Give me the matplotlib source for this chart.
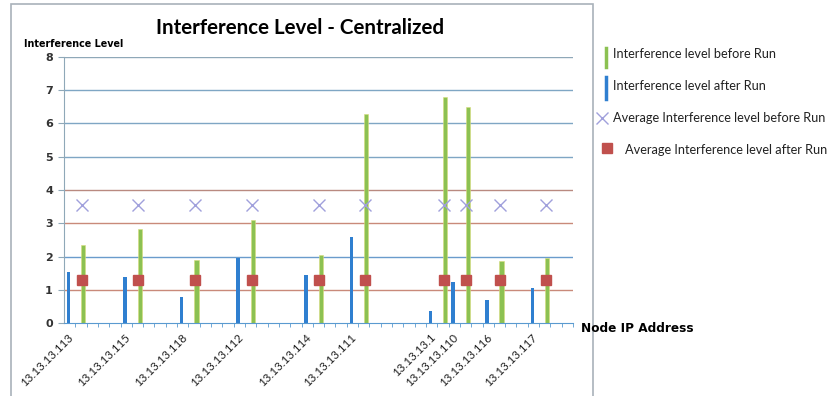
import numpy as np
import matplotlib
matplotlib.use('Agg')
import matplotlib.pyplot as plt
from matplotlib.lines import Line2D
from matplotlib.patches import Rectangle

# node labels and measured interference levels
nodes = ['13.13.13.113', '13.13.13.115', '13.13.13.118', '13.13.13.112',
         '13.13.13.114', '13.13.13.111', '13.13.13.1', '13.13.13.110',
         '13.13.13.116', '13.13.13.117']
node_slot = [1, 6, 11, 16, 22, 26, 33, 35, 38, 42]
level_before = [2.36, 2.83, 1.89, 3.11, 2.04, 6.27, 6.78, 6.49, 1.87, 1.95]
level_after = [1.54, 1.38, 0.80, 1.95, 1.46, 2.60, 0.36, 1.23, 0.70, 1.06]
n_slots = 45

W, H = 832, 396
fig = plt.figure(figsize=(W / 100, H / 100), dpi=100)
fig.patch.set_facecolor('white')

def fx(px):
    return px / W

def fy(py):
    return 1 - py / H

ax = fig.add_axes([fx(64), fy(323.3), fx(573) - fx(64), fy(56.7) - fy(323.3)])

slot = np.array(node_slot, dtype=float)
before = np.array(level_before)
after = np.array(level_after)
avg_before = np.full(len(before), before.mean())
avg_after = np.full(len(after), after.mean())

green = '#8cc152'
blue = '#2f7fd0'

# horizontal gridlines (some drawn in red tint)
grid_col = {1: '#c98a7a', 2: '#6a9ccc', 3: '#c98a7a', 4: '#b98a80',
            5: '#7fa6c4', 6: '#7fa6c4', 7: '#7fa6c4', 8: '#8fa8b8'}
for yv, c in grid_col.items():
    ax.axhline(yv, color=c, lw=1.0, zorder=0)

ax.bar(slot - 0.6, after, width=0.3, color=blue, zorder=2)
ax.bar(slot + 0.7, before, width=0.4, color=green, edgecolor='#d8dc7a',
       linewidth=0.4, zorder=2)
ax.plot(slot + 0.58, avg_before, 'x', color='#a0a0dc', ms=8, mew=1.0,
        zorder=3, ls='none')
ax.plot(slot + 0.58, avg_after, 's', color='#c0504d', ms=6.5, zorder=4,
        ls='none')

ax.set_xlim(0, n_slots)
ax.set_ylim(0, 8)
ax.set_yticks(range(0, 9))
ax.tick_params(axis='y', length=4, color='#8fa8b8', labelsize=8,
               labelcolor='#333333', pad=4)
for t in ax.get_yticklabels():
    t.set_fontweight('bold')

# tick marks at every slot, labels only where a node sits
ax.set_xticks(np.arange(1, n_slots + 1), minor=True)
ax.set_xticks(slot - 0.65)
ax.set_xticklabels(nodes, rotation=45, ha='right', va='top',
                   rotation_mode='anchor', fontsize=8.4, family='Lato',
                   color='#222222')
ax.tick_params(axis='x', which='major', length=0, pad=6)
ax.tick_params(axis='x', which='minor', length=3, color='#5a9ad0',
               direction='out')

for s in ['top', 'right']:
    ax.spines[s].set_visible(False)
ax.spines['left'].set_color('#8fa8b8')
ax.spines['bottom'].set_color('#5a9ad0')

# outer chart frame
fig.add_artist(Rectangle((fx(10.7), fy(420)), fx(592.7) - fx(10.7),
                         fy(4) - fy(420), transform=fig.transFigure,
                         fill=False, edgecolor='#a9b2ba', lw=1.2))

fig.text(fx(300), fy(28), 'Interference Level - Centralized', ha='center',
         va='center', fontsize=14.8, fontweight='bold', family='Lato')
fig.text(fx(24), fy(44), 'Interference Level', ha='left', va='center',
         fontsize=6.9, fontweight='heavy', family='DejaVu Sans')
fig.text(fx(581), fy(329), 'Node IP Address', ha='left', va='center',
         fontsize=8.7, fontweight='heavy', family='DejaVu Sans')

# legend at the right of the frame
leg_font = dict(fontsize=9.2, family='Lato', color='#222222', va='center',
                ha='left')
fig.add_artist(Line2D([fx(605.7)] * 2, [fy(47.7), fy(66.7)], color=green,
                      lw=2.5, transform=fig.transFigure))
fig.text(fx(613.3), fy(54), 'Interference level before Run', **leg_font)
fig.add_artist(Line2D([fx(605.7)] * 2, [fy(77.3), fy(98.7)], color=blue,
                      lw=2.5, transform=fig.transFigure))
fig.text(fx(613.3), fy(86), 'Interference level after Run', **leg_font)
fig.add_artist(Line2D([fx(601.7)], [fy(118)], marker='x', ms=8, mew=1.0,
                      color='#a0a0dc', transform=fig.transFigure))
fig.text(fx(613.3), fy(118.5), 'Average Interference level before Run',
         **leg_font)
fig.add_artist(Line2D([fx(606.7)], [fy(148.3)], marker='s', ms=6.5,
                      color='#c0504d', transform=fig.transFigure))
fig.text(fx(625), fy(150), 'Average Interference level after Run',
         **leg_font)

fig.savefig('out.png', dpi=100)
